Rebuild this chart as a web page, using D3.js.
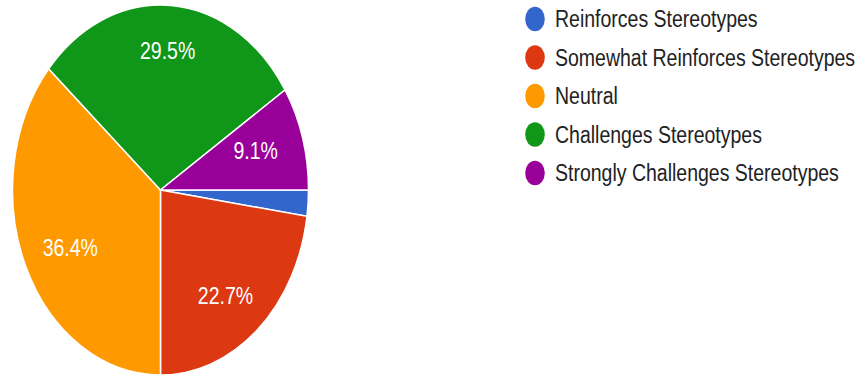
<!DOCTYPE html>
<html>
<head>
<meta charset="utf-8">
<script src="https://cdn.jsdelivr.net/npm/d3@7"></script>
<style>
  html, body { margin: 0; padding: 0; background: #fff; }
  svg { display: block; }
  text { font-family: "Liberation Sans", Arial, sans-serif; }
</style>
</head>
<body>
<svg id="chart" width="863" height="376"></svg>
<script>
const categories = ["Reinforces Stereotypes", "Somewhat Reinforces Stereotypes", "Neutral", "Challenges Stereotypes", "Strongly Challenges Stereotypes"];
const counts = [1, 10, 16, 13, 4];
const colors = ["#3366cc", "#dc3912", "#ff9900", "#109618", "#990099"];

const W = 863, H = 376;
const sy = 1.25;             // vertical stretch of the picture
const R = 148;
const cx = 160.5, cy = 190 / sy;

const svg = d3.select("#chart");
const g = svg.append("g").attr("transform", `scale(1,${sy})`);

const total = d3.sum(counts);
const data = categories.map((c, i) => ({ name: c, value: counts[i], color: colors[i] }));

const pie = d3.pie().value(d => d.value).sort(null)
  .startAngle(Math.PI / 2).endAngle(Math.PI / 2 + 2 * Math.PI);
const arcs = pie(data);
const arc = d3.arc().innerRadius(0).outerRadius(R);
const labelArc = d3.arc().innerRadius(R * 0.67).outerRadius(R * 0.67);

const pg = g.append("g").attr("transform", `translate(${cx},${cy})`);
pg.selectAll("path").data(arcs).join("path")
  .attr("d", arc)
  .attr("fill", d => d.data.color)
  .attr("stroke", "#fff")
  .attr("stroke-width", 1.5)
  .attr("vector-effect", "non-scaling-stroke");

pg.selectAll("text").data(arcs.filter(d => d.value / total >= 0.05)).join("text")
  .attr("x", d => labelArc.centroid(d)[0])
  .attr("y", d => labelArc.centroid(d)[1] * (0.755 / 0.67))
  .attr("text-anchor", "middle")
  .attr("dominant-baseline", "central")
  .attr("fill", "#fff")
  .attr("font-size", 19.5)
  .text(d => (d.value / total * 100).toFixed(1) + "%");

const lx = 535, ly0 = 19 / sy, lstep = 38.5 / sy;
const lg = g.append("g");
const items = lg.selectAll("g").data(data).join("g")
  .attr("transform", (d, i) => `translate(${lx},${ly0 + i * lstep})`);
items.append("circle").attr("r", 9.8).attr("fill", d => d.color);
items.append("text")
  .attr("x", 20)
  .attr("dominant-baseline", "central")
  .attr("font-size", 19.5)
  .attr("fill", "#222")
  .text(d => d.name);
</script>
</body>
</html>
